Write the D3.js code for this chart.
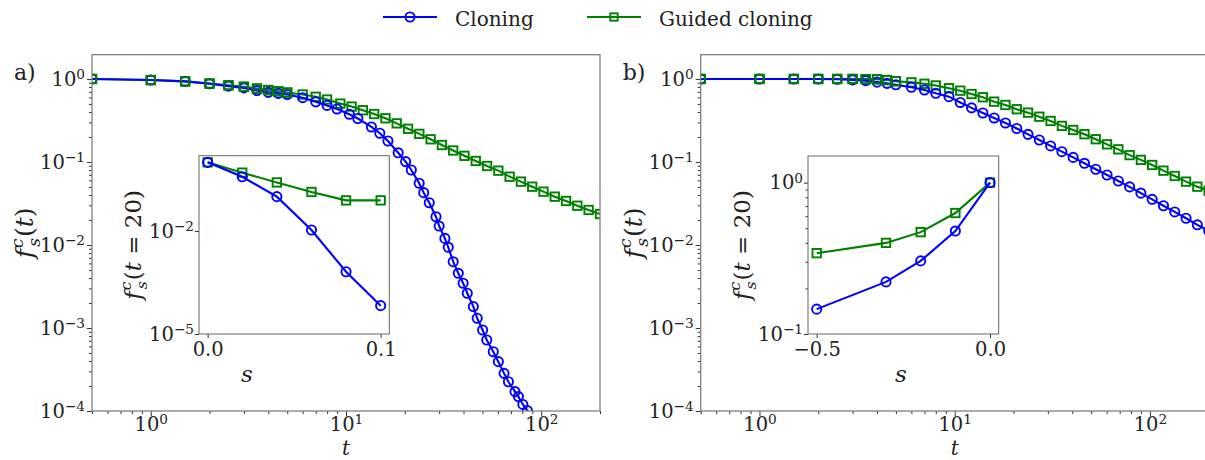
<!DOCTYPE html>
<html>
<head>
<meta charset="utf-8">
<script src="https://cdn.jsdelivr.net/npm/d3@7"></script>
<style>
  body { margin: 0; background: #fff; }
  svg { display: block; }
  svg text { font-family: "DejaVu Serif", "Liberation Serif", serif !important; fill: #222; }
</style>
</head>
<body>
<svg id="fig" width="1205" height="460"></svg>
<script>
// ---- survival probability f_s^c(t), panel a: cloning ----
const tCloneA = [0.5, 1, 1.5, 2, 2.5, 3, 3.5, 4, 4.5, 5, 6, 7, 8, 9, 10.4, 11.5, 13.5, 14.9, 16.4, 18.5,
  20.2, 21.6, 23.7, 25, 26.7, 28.9, 30, 32.1, 33.4, 35.4, 37.6, 39.8, 41.8, 44.9, 47, 50.1, 52.6, 56.8,
  60.3, 64.5, 67.9, 73.4, 76.4, 80.5, 85, 90];
const fCloneA = [1.0, 0.97, 0.935, 0.875, 0.82, 0.78, 0.725, 0.69, 0.67, 0.65, 0.595, 0.53, 0.48, 0.435,
  0.376, 0.334, 0.264, 0.222, 0.179, 0.129, 0.101, 0.080, 0.0554, 0.0427, 0.0323, 0.0219, 0.0169, 0.0120,
  0.00938, 0.00629, 0.00456, 0.00346, 0.00262, 0.00181, 0.00131, 0.000946, 0.000717, 0.000518, 0.000393,
  0.000284, 0.000225, 0.000171, 0.000149, 0.000120, 0.000101, 0.000078];

// shared time grid for guided cloning (a) and both runs of panel b
const tGrid = [0.5, 1, 1.5, 2, 2.5, 3, 3.5, 4, 4.5, 5, 6, 7, 8, 9.35, 10.68, 12.2, 13.94, 15.93, 18.19,
  20.79, 23.75, 27.13, 30.99, 35.4, 40.44, 46.2, 52.78, 60.3, 68.88, 78.69, 89.89, 102.7, 117.3, 134,
  153.1, 174.9, 200];
const fGuidedA = [1.0, 0.97, 0.935, 0.88, 0.84, 0.805, 0.765, 0.735, 0.71, 0.685, 0.65, 0.61, 0.565,
  0.505, 0.465, 0.42, 0.378, 0.336, 0.292, 0.251, 0.218, 0.1875, 0.160, 0.1375, 0.1186, 0.1028, 0.0895,
  0.0786, 0.0665, 0.058, 0.0504, 0.0439, 0.0382, 0.0339, 0.0297, 0.0264, 0.0236];

// ---- panel b ----
const fCloneB = [1, 1, 1, 0.998, 0.99, 0.975, 0.955, 0.915, 0.885, 0.85, 0.795, 0.737, 0.673, 0.612,
  0.521, 0.449, 0.389, 0.339, 0.295, 0.253, 0.215, 0.184, 0.156, 0.133, 0.1135, 0.0964, 0.0817, 0.0697,
  0.059, 0.0501, 0.0421, 0.0355, 0.0297, 0.025, 0.021, 0.0175, 0.0148];
const fGuidedB = [1, 1, 1, 1, 1, 1, 0.995, 0.99, 0.97, 0.94, 0.91, 0.875, 0.835, 0.773, 0.723, 0.659,
  0.602, 0.533, 0.486, 0.432, 0.393, 0.351, 0.312, 0.272, 0.243, 0.216, 0.188, 0.163, 0.142, 0.121,
  0.106, 0.092, 0.0786, 0.0678, 0.058, 0.0504, 0.045];

// ---- insets: f_s^c(t = 20) against the bias s ----
const sA = [0, 0.02, 0.04, 0.06, 0.08, 0.1];
const fCloneA20 = [1, 0.38, 0.1, 0.0107, 0.00065, 0.000067];
const fGuidedA20 = [1, 0.5, 0.26, 0.137, 0.078, 0.078];
const sB = [-0.5, -0.3, -0.2, -0.1, 0];
const fCloneB20 = [0.146, 0.221, 0.304, 0.479, 1];
const fGuidedB20 = [0.342, 0.40, 0.471, 0.63, 1];

// ---- tick values ----
const tTicks = [1, 10, 100];
const fTicks = [1e-4, 1e-3, 1e-2, 1e-1, 1];
const insetATicksS = [0, 0.1];
const insetATicksF = [1e-5, 1e-2];
const insetBTicksS = [-0.5, 0];
const insetBTicksF = [0.1, 1];

const seriesNames = ["Cloning", "Guided cloning"];
const BLUE = "#0000ff", GREEN = "#008000";
const SPINE = "#808080";
const FONT = "DejaVu Serif, Liberation Serif, serif";
const TICK_FS = 19.5, LABEL_FS = 23;

const svg = d3.select("#fig").attr("font-family", FONT);

function zip(xs, ys) { return xs.map((x, i) => ({ x, y: ys[i] })); }

function minorLog(domain) {
  const out = [];
  const lo = Math.floor(Math.log10(domain[0])), hi = Math.ceil(Math.log10(domain[1]));
  for (let e = lo; e <= hi; e++) for (let k = 2; k <= 9; k++) {
    const v = k * Math.pow(10, e);
    if (v >= domain[0] && v <= domain[1]) out.push(v);
  }
  return out;
}

function powLabel(sel) {
  sel.each(function (d) {
    const e = Math.round(Math.log10(d));
    const t = d3.select(this);
    t.text(null);
    t.append("tspan").text("10");
    t.append("tspan").attr("dy", "-0.48em").attr("font-size", "0.7em").text(e < 0 ? "\u2212" + (-e) : String(e));
  });
}

function styleAxis(g, color) {
  g.attr("font-family", FONT);
  g.select(".domain").remove();
  g.selectAll(".tick line").attr("stroke", color).attr("stroke-width", 1);
}

function markers(g, pts, x, y, kind, color, r) {
  if (kind === "circle") {
    g.selectAll(null).data(pts).join("circle")
      .attr("cx", d => x(d.x)).attr("cy", d => y(d.y)).attr("r", r)
      .attr("fill", "none").attr("stroke", color).attr("stroke-width", 1.9);
  } else {
    const a = r * 1.75;
    g.selectAll(null).data(pts).join("rect")
      .attr("x", d => x(d.x) - a / 2).attr("y", d => y(d.y) - a / 2)
      .attr("width", a).attr("height", a)
      .attr("fill", "none").attr("stroke", color).attr("stroke-width", 1.9);
  }
}

function series(g, pts, x, y, kind, color, r) {
  g.append("path").datum(pts)
    .attr("fill", "none").attr("stroke", color).attr("stroke-width", 2.1)
    .attr("d", d3.line().x(d => x(d.x)).y(d => y(d.y)));
  markers(g, pts, x, y, kind, color, r);
}

// f_s^c( ... ) label
function fLabel(parent, size, argParts) {
  const t = parent.append("text").attr("font-size", size).attr("text-anchor", "middle");
  const small = size * 0.68;
  t.append("tspan").attr("font-style", "italic").text("f");
  t.append("tspan").attr("font-style", "italic").attr("font-size", small).attr("dx", 1).attr("dy", -size * 0.42).text("c");
  t.append("tspan").attr("font-style", "italic").attr("font-size", small).attr("dx", -small * 0.5).attr("dy", size * 0.68).text("s");
  t.append("tspan").attr("dx", 1).attr("dy", -size * 0.26).text("(");
  argParts.forEach(p => t.append("tspan").attr("font-style", p.it ? "italic" : "normal").text(p.s));
  t.append("tspan").text(")");
  return t;
}

let clipId = 0;

function mainPanel(left, opts) {
  const top = 54.7, bottom = 411, width = 508;
  const x = d3.scaleLog().domain([0.5, 200]).range([left, left + width]);
  const y = d3.scaleLog().domain([1e-4, 1.96]).range([bottom, top]);
  const g = svg.append("g");

  const id = "clip" + (clipId++);
  svg.append("clipPath").attr("id", id).append("rect")
    .attr("x", left).attr("y", top).attr("width", width).attr("height", bottom - top);

  // axes
  const gx = g.append("g").attr("transform", `translate(0,${bottom})`)
    .call(d3.axisBottom(x).tickValues(tTicks).tickSize(5).tickPadding(1));
  styleAxis(gx, "#333");
  gx.selectAll(".tick text").attr("font-size", TICK_FS).call(powLabel);
  const gxm = g.append("g").attr("transform", `translate(0,${bottom})`)
    .call(d3.axisBottom(x).tickValues(minorLog(x.domain())).tickSize(3).tickFormat(""));
  styleAxis(gxm, "#333");

  const gy = g.append("g").attr("transform", `translate(${left},0)`)
    .call(d3.axisLeft(y).tickValues(fTicks).tickSize(5).tickPadding(2));
  styleAxis(gy, "#333");
  gy.selectAll(".tick text").attr("font-size", TICK_FS).call(powLabel);
  const gym = g.append("g").attr("transform", `translate(${left},0)`)
    .call(d3.axisLeft(y).tickValues(minorLog(y.domain())).tickSize(3).tickFormat(""));
  styleAxis(gym, "#333");

  // data
  const plot = g.append("g").attr("clip-path", `url(#${id})`);
  series(plot, zip(opts.tGuided, opts.fGuided), x, y, "square", GREEN, 4.8);
  series(plot, zip(opts.tClone, opts.fClone), x, y, "circle", BLUE, 4.6);
  // guided markers redrawn on top where both runs coincide at early times
  markers(plot, zip(opts.tGuided, opts.fGuided).filter(d => d.x <= 5), x, y, "square", GREEN, 4.8);

  // frame
  g.append("rect").attr("x", left).attr("y", top).attr("width", width).attr("height", bottom - top)
    .attr("fill", "none").attr("stroke", SPINE).attr("stroke-width", 1.3);

  // labels
  g.append("text").attr("x", left + width / 2).attr("y", 455).attr("font-size", 20)
    .attr("font-style", "italic").attr("text-anchor", "middle").text("t");
  const yl = g.append("g").attr("transform", `translate(${left - 59},${(top + bottom) / 2}) rotate(-90)`);
  fLabel(yl, 25, [{ s: "t", it: true }]);
  g.append("text").attr("x", left - 78).attr("y", 80).attr("font-size", 22).text(opts.tag);

  return g;
}

function inset(box, opts) {
  const x = d3.scaleLinear().domain(opts.sDomain).range([box.l, box.r]);
  const y = d3.scaleLog().domain(opts.fDomain).range([box.b, box.t]);
  const g = svg.append("g");
  g.append("rect").attr("x", box.l).attr("y", box.t).attr("width", box.r - box.l).attr("height", box.b - box.t)
    .attr("fill", "#fff");

  const gx = g.append("g").attr("transform", `translate(0,${box.b})`)
    .call(d3.axisBottom(x).tickValues(opts.sTicks).tickSize(4).tickPadding(4).tickFormat(d3.format(".1f")));
  styleAxis(gx, "#333");
  gx.selectAll(".tick text").attr("font-size", TICK_FS).text(d => d3.format(".1f")(d).replace("-", "\u2212"));

  const gy = g.append("g").attr("transform", `translate(${box.l},0)`)
    .call(d3.axisLeft(y).tickValues(opts.fTicks).tickSize(4).tickPadding(1));
  styleAxis(gy, "#333");
  gy.selectAll(".tick text").attr("font-size", TICK_FS).call(powLabel);
  if (opts.minor) {
    const gym = g.append("g").attr("transform", `translate(${box.l},0)`)
      .call(d3.axisLeft(y).tickValues(minorLog(y.domain())).tickSize(2.5).tickFormat(""));
    styleAxis(gym, "#333");
  }

  series(g, zip(opts.s, opts.guided), x, y, "square", GREEN, 4.8);
  series(g, zip(opts.s, opts.clone), x, y, "circle", BLUE, 4.6);

  g.append("rect").attr("x", box.l).attr("y", box.t).attr("width", box.r - box.l).attr("height", box.b - box.t)
    .attr("fill", "none").attr("stroke", "#666").attr("stroke-width", 1);

  g.append("text").attr("x", opts.sLabelX).attr("y", 382).attr("font-size", LABEL_FS)
    .attr("font-style", "italic").attr("text-anchor", "middle").text("s");
  const yl = g.append("g").attr("transform", `translate(${opts.fLabelX},${(box.t + box.b) / 2}) rotate(-90)`);
  fLabel(yl, 23, [{ s: "t", it: true }, { s: " = 20", it: false }]);
}

// panel a
mainPanel(92, { tClone: tCloneA, fClone: fCloneA, tGuided: tGrid, fGuided: fGuidedA, tag: "a)" });
inset({ l: 199, r: 389.3, t: 155.7, b: 334 }, {
  sDomain: [-0.005, 0.105], fDomain: [1e-5, 1.56], sTicks: insetATicksS, fTicks: insetATicksF,
  s: sA, clone: fCloneA20, guided: fGuidedA20, minor: false, sLabelX: 247, fLabelX: 141
});

// panel b
mainPanel(700.7, { tClone: tGrid, fClone: fCloneB, tGuided: tGrid, fGuided: fGuidedB, tag: "b)" });
inset({ l: 808, r: 998.7, t: 156, b: 334 }, {
  sDomain: [-0.525, 0.025], fDomain: [0.1, 1.5], sTicks: insetBTicksS, fTicks: insetBTicksF,
  s: sB, clone: fCloneB20, guided: fGuidedB20, minor: true, sLabelX: 901, fLabelX: 750
});

// legend
const legend = svg.append("g");
const items = [
  { name: seriesNames[0], color: BLUE, kind: "circle", x0: 383 },
  { name: seriesNames[1], color: GREEN, kind: "square", x0: 587 }
];
items.forEach(it => {
  const lx = d3.scaleLinear().domain([0, 1]).range([it.x0, it.x0 + 54]);
  const ly = d3.scaleLinear().domain([0, 1]).range([17, 17]);
  legend.append("path").datum([{ x: 0, y: 0 }, { x: 1, y: 0 }])
    .attr("fill", "none").attr("stroke", it.color).attr("stroke-width", 2.1)
    .attr("d", d3.line().x(d => lx(d.x)).y(d => ly(d.y)));
  markers(legend, [{ x: 0.5, y: 0 }], lx, ly, it.kind, it.color, it.kind === "circle" ? 4.6 : 4.2);
  legend.append("text").attr("x", it.x0 + 72).attr("y", 26).attr("font-size", 20).text(it.name);
});
</script>
</body>
</html>
